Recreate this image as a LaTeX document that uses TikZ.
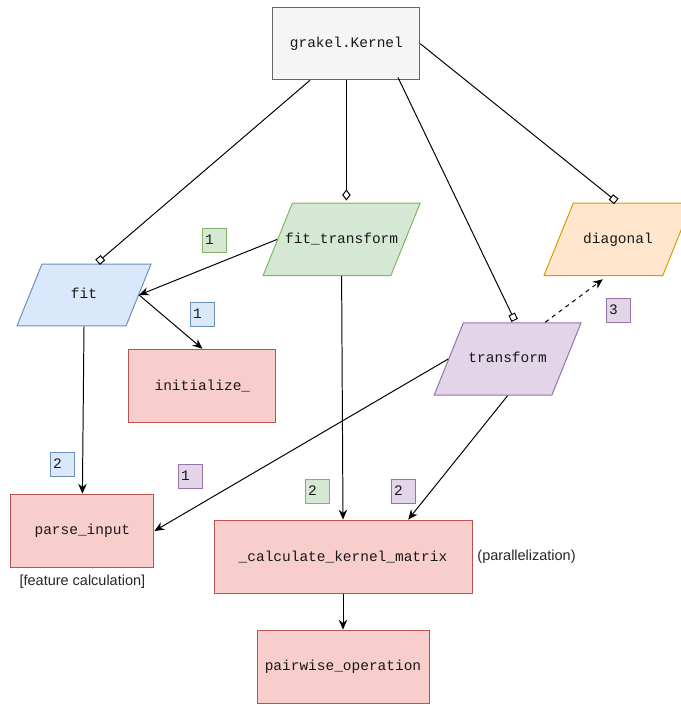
\documentclass[tikz,border=0pt]{standalone}
\usepackage{fontspec}
\setmainfont{Liberation Sans}
\setmonofont{Liberation Mono}
\usepackage{tikz}
\usetikzlibrary{positioning, arrows.meta, shapes.geometric}

\definecolor{greyfill}{HTML}{F5F5F5}
\definecolor{greyline}{HTML}{666666}
\definecolor{bluefill}{HTML}{DAE8FC}
\definecolor{blueline}{HTML}{6C8EBF}
\definecolor{greenfill}{HTML}{D5E8D4}
\definecolor{greenline}{HTML}{82B366}
\definecolor{orangefill}{HTML}{FFE6CC}
\definecolor{orangeline}{HTML}{D79B00}
\definecolor{purplefill}{HTML}{E1D5E7}
\definecolor{purpleline}{HTML}{9673A6}
\definecolor{redfill}{HTML}{F8CECC}
\definecolor{redline}{HTML}{B85450}

\begin{document}
\begin{tikzpicture}[
        plain/.style = {draw, line width=.7pt, text=black!90, font=\ttfamily\fontsize{10.3}{12}\selectfont},
        call/.style = {plain, rectangle, minimum width=#1, minimum height=1.84cm},
        method/.style = {plain, trapezium, trapezium left angle=68, trapezium right angle=112,
            trapezium stretches body, text height=8pt, text depth=2.5pt, inner ysep=20.5pt, minimum width=#1},
        ordernum/.style = {plain, inner sep=.075cm, text width=.45cm, minimum height=.6cm, align=left},
        cgrey/.style = {fill=greyfill, draw=greyline},
        cblue/.style = {fill=bluefill, draw=blueline},
        cgreen/.style = {fill=greenfill, draw=greenline},
        corange/.style = {fill=orangefill, draw=orangeline},
        cpurple/.style = {fill=purplefill, draw=purpleline},
        cred/.style = {fill=redfill, draw=redline},
        link/.style = {line width=.7pt, -{Stealth[length=7pt,width=6pt]}},
        owner/.style = {line width=.7pt, shorten >=1.5pt, -{#1[open,length=5pt,width=5pt]}},
        every label/.style = {font=\fontsize{10.3}{12}\selectfont, text=black!85},
        ]
        \useasboundingbox (0,0) rectangle (17.025,17.625);

        \node[call=3.675cm, cgrey, minimum height=1.8cm] (kernel) at (8.66,16.53) {grakel.Kernel};
        \node[method=3.35cm, cblue, inner ysep=16.7pt] (fit) at (2.1,10.25) {\makebox[0pt]{fit}};
        \node[method=3.925cm, cgreen] (fittransform) at (8.54,11.64) {\makebox[0pt]{fit\_transform}};
        \node[method=3.7cm, corange] (diagonal) at (15.45,11.64) {\makebox[0pt]{diagonal}};
        \node[method=3.675cm, cpurple] (transform) at (12.69,8.65) {\makebox[0pt]{transform}};
        \node[call=3.675cm, cred] (initialize) at (5.06,7.975) {initialize\_};
        \node[call=3.575cm, cred, label={[label distance=1.5pt]below:{[feature calculation]}}] (parse) at (2.06,4.35) {parse\_input};
        \node[call=6.45cm, cred, minimum height=1.825cm, label={right:(parallelization)}] (calc) at (8.575,3.71) {\_calculate\_kernel\_matrix};
        \node[call=4.3cm, cred, minimum height=1.825cm] (pairwise) at (8.575,0.96) {pairwise\_operation};

        % call order
        \node[ordernum, cgreen] (g1) at (5.35,11.625) {1};
        \node[ordernum, cblue] (b1) at (5.05,9.775) {1};
        \node[ordernum, cpurple] (p3) at (15.45,9.875) {3};
        \node[ordernum, cblue] (b2) at (1.55,6.025) {2};
        \node[ordernum, cpurple] (p1) at (4.75,5.725) {1};
        \node[ordernum, cgreen] (g2) at (7.925,5.35) {2};
        \node[ordernum, cpurple] (p2) at (10.075,5.35) {2};

        \draw[owner=Square] ([xshift=-.91cm]kernel.south) -- ([xshift=.3cm]fit.north);
        \draw[line width=.7pt, shorten >=1.5pt, -{Diamond[open,length=8pt,width=6pt]}] (kernel.south) -- (kernel.south |- fittransform.north);
        \draw[owner=Square] ([xshift=1.29cm,yshift=.07cm]kernel.south) -- ([xshift=.2cm]transform.north);
        \draw[owner=Square] (kernel.east) -- (diagonal.north);

        \draw[link] (fittransform.west) -- (fit.east);
        \draw[link] (fit.east) -- (initialize.north);
        \draw[link] (fit.south) -- (parse.north);
        \draw[link] (fittransform.south) -- (calc.north);
        \draw[link] (transform.west) -- (parse.east);
        \draw[link] (transform.south) -- ([xshift=1.63cm]calc.north);
        \draw[link, dashed] ([xshift=.94cm]transform.north) -- ([xshift=-.38cm,yshift=-.08cm]diagonal.south);
        \draw[link] (calc.south) -- (pairwise.north);
    \end{tikzpicture}
\end{document}
